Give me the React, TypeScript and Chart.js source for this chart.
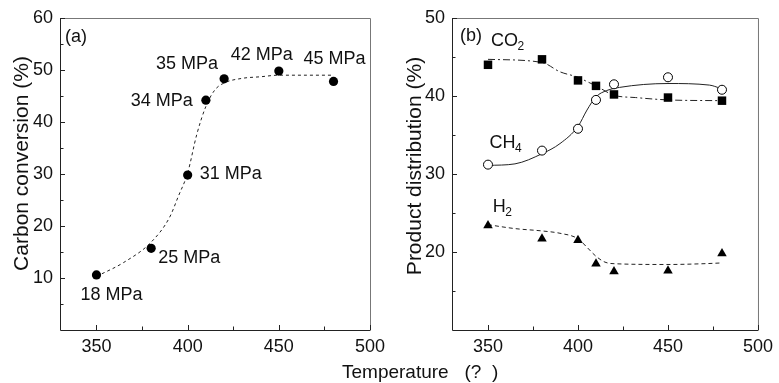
import React, { useEffect, useRef } from 'react';
import { Chart, registerables } from 'chart.js';

Chart.register(...registerables);

const W = 779;
const H = 383;
const FONT = "'Liberation Sans', Arial, Helvetica, sans-serif";
const INK = '#111';

// ---------- data ----------
const temperatures = [350, 380, 400, 410, 420, 450, 480];
const pressureLabels = ['18 MPa', '25 MPa', '31 MPa', '34 MPa', '35 MPa', '42 MPa', '45 MPa'];
const carbonConversion = [10.6, 15.7, 29.8, 44.2, 48.3, 49.8, 47.8];

const conversionFitTemps = [350, 365, 380, 390, 395, 400, 405, 410, 415, 420, 430, 440, 450, 465, 480];
const conversionFitValues = [10.3, 13.0, 16.9, 21.6, 25.8, 30.2, 37.6, 43.0, 46.2, 47.5, 48.4, 48.7, 49.0, 49.0, 49.0];

const co2Distribution = [44.0, 44.7, 42.0, 41.3, 40.2, 39.8, 39.4];
const ch4Distribution = [31.2, 33.0, 35.8, 39.5, 41.5, 42.4, 40.8];
const h2Distribution = [23.4, 21.7, 21.5, 18.5, 17.5, 17.6, 19.8];

const co2FitTemps = [350, 380, 390, 400, 405, 410, 420, 432, 450, 480];
const co2FitValues = [44.7, 44.3, 43.1, 42.4, 41.85, 41.3, 40.1, 39.8, 39.5, 39.4];
const ch4FitTemps = [350, 365, 380, 390, 400, 405, 410, 416, 423, 450, 473, 479];
const ch4FitValues = [31.1, 31.3, 32.6, 33.9, 36.1, 38.2, 39.9, 40.7, 41.1, 41.6, 41.4, 41.0];
const h2FitTemps = [350, 365, 380, 390, 400, 405, 410, 415, 420, 450, 470, 480];
const h2FitValues = [23.5, 23.0, 22.7, 22.4, 21.7, 20.6, 19.45, 18.7, 18.5, 18.4, 18.5, 18.6];

const xTicks = [350, 375, 400, 425, 450, 475, 500];
const xTickLabels = [350, 400, 450, 500];
const yTicksA = [5, 10, 15, 20, 25, 30, 35, 40, 45, 50, 55, 60];
const yTickLabelsA = [10, 20, 30, 40, 50, 60];
const yTicksB = [15, 20, 25, 30, 35, 40, 45, 50];
const yTickLabelsB = [20, 30, 40, 50];

const xTitle = 'Temperature   (?  )';
const yTitleA = 'Carbon conversion (%)';
const yTitleB = 'Product distribution (%)';

// ---------- label placement (pixels relative to each point) ----------
const pressureLabelPlacement = [
  { dx: 15, dy: 20, align: 'center' },
  { dx: 7, dy: 10, align: 'left' },
  { dx: 12, dy: -1, align: 'left' },
  { dx: -13, dy: 1, align: 'right' },
  { dx: -6, dy: -14.5, align: 'right' },
  { dx: -17, dy: -16, align: 'center' },
  { dx: 1, dy: -22, align: 'center' },
];

const pts = (xs: number[], ys: number[]) => xs.map((x, i) => ({ x, y: ys[i] }));

function drawFrameAndTicks(chart: any, xs: number[], xLabels: number[], ys: number[], yLabels: number[]) {
  const { ctx, chartArea: a, scales } = chart;
  const x = scales.x;
  const y = scales.y;
  ctx.save();
  ctx.lineWidth = 1;
  ctx.strokeStyle = '#777';
  ctx.beginPath();
  ctx.moveTo(a.left, a.top + 0.5);
  ctx.lineTo(a.right + 0.5, a.top + 0.5);
  ctx.lineTo(a.right + 0.5, a.bottom);
  ctx.stroke();
  ctx.strokeStyle = '#222';
  ctx.beginPath();
  ctx.moveTo(a.left + 0.5, a.top);
  ctx.lineTo(a.left + 0.5, a.bottom + 0.5);
  ctx.lineTo(a.right + 0.5, a.bottom + 0.5);
  ctx.stroke();
  ctx.beginPath();
  xs.forEach((v) => {
    const px = Math.round(x.getPixelForValue(v)) + 0.5;
    const len = xLabels.includes(v) ? 5 : 3.5;
    ctx.moveTo(px, a.bottom);
    ctx.lineTo(px, a.bottom - len);
  });
  ys.forEach((v) => {
    const py = Math.round(y.getPixelForValue(v)) + 0.5;
    const len = yLabels.includes(v) ? 5 : 3.5;
    ctx.moveTo(a.left, py);
    ctx.lineTo(a.left + len, py);
  });
  ctx.stroke();
  ctx.restore();
}

function drawRotated(ctx: CanvasRenderingContext2D, text: string, cx: number, cy: number, size: number) {
  ctx.save();
  ctx.translate(cx, cy);
  ctx.rotate(-Math.PI / 2);
  ctx.font = `${size}px ${FONT}`;
  ctx.fillStyle = INK;
  ctx.textAlign = 'center';
  ctx.textBaseline = 'middle';
  ctx.fillText(text, 0, 0);
  ctx.restore();
}

function drawChem(ctx: CanvasRenderingContext2D, main: string, sub: string, x: number, baseline: number) {
  ctx.save();
  ctx.fillStyle = INK;
  ctx.textAlign = 'left';
  ctx.textBaseline = 'alphabetic';
  ctx.font = `18px ${FONT}`;
  ctx.fillText(main, x, baseline);
  const w = ctx.measureText(main).width;
  ctx.font = `12px ${FONT}`;
  ctx.fillText(sub, x + w - 0.5, baseline + 3.5);
  ctx.restore();
}

function xScale() {
  return {
    type: 'linear',
    min: 330,
    max: 500,
    afterBuildTicks: (s: any) => {
      s.ticks = xTicks.map((v) => ({ value: v }));
    },
    afterFit: (s: any) => {
      s.height = 53;
    },
    grid: { display: false, drawTicks: false },
    border: { display: false },
    ticks: {
      autoSkip: false,
      maxRotation: 0,
      padding: 6,
      color: INK,
      font: { family: FONT, size: 18 },
      callback: (v: number) => (xTickLabels.includes(v) ? String(v) : ''),
    },
  };
}

function yScale(min: number, max: number, ticks: number[], labels: number[], width: number) {
  return {
    type: 'linear',
    min,
    max,
    afterBuildTicks: (s: any) => {
      s.ticks = ticks.map((v) => ({ value: v }));
    },
    afterFit: (s: any) => {
      s.width = width;
    },
    grid: { display: false, drawTicks: false },
    border: { display: false },
    ticks: {
      autoSkip: false,
      padding: 7,
      color: INK,
      font: { family: FONT, size: 18 },
      callback: (v: number) => (labels.includes(v) ? String(v) : ''),
    },
  };
}

function configA(): any {
  return {
    type: 'scatter',
    data: {
      datasets: [
        {
          label: 'Carbon conversion',
          data: pts(temperatures, carbonConversion),
          pointStyle: 'circle',
          pointRadius: 4.6,
          pointBackgroundColor: '#000',
          pointBorderColor: '#000',
          pointBorderWidth: 0,
          showLine: false,
        },
        {
          label: 'fit',
          data: pts(conversionFitTemps, conversionFitValues),
          showLine: true,
          pointRadius: 0,
          borderColor: '#222',
          borderWidth: 1,
          borderDash: [3, 3],
          cubicInterpolationMode: 'monotone',
          fill: false,
        },
      ],
    },
    options: {
      responsive: false,
      animation: false,
      devicePixelRatio: 1,
      events: [],
      layout: { padding: { left: 0, top: 18, right: W - 370, bottom: 0 } },
      plugins: { legend: { display: false }, tooltip: { enabled: false } },
      scales: {
        x: xScale(),
        y: yScale(0, 60, yTicksA, yTickLabelsA, 60),
      },
    },
    plugins: [
      {
        id: 'decorA',
        afterDraw(chart: any) {
          const { ctx, scales } = chart;
          const x = scales.x;
          const y = scales.y;
          drawFrameAndTicks(chart, xTicks, xTickLabels, yTicksA, yTickLabelsA);
          ctx.save();
          ctx.fillStyle = INK;
          ctx.font = `18px ${FONT}`;
          ctx.textBaseline = 'middle';
          temperatures.forEach((t, i) => {
            const p = pressureLabelPlacement[i];
            ctx.textAlign = p.align as CanvasTextAlign;
            ctx.fillText(
              pressureLabels[i],
              x.getPixelForValue(t) + p.dx,
              y.getPixelForValue(carbonConversion[i]) + p.dy
            );
          });
          ctx.textAlign = 'left';
          ctx.fillText('(a)', x.getPixelForValue(332.7), y.getPixelForValue(56.35));
          ctx.restore();
          drawRotated(ctx, yTitleA, 22.5, 163.5, 21);
          ctx.save();
          ctx.font = `19px ${FONT}`;
          ctx.fillStyle = INK;
          ctx.textAlign = 'left';
          ctx.textBaseline = 'alphabetic';
          ctx.fillText(xTitle, 342, 378);
          ctx.restore();
        },
      },
    ],
  };
}

function configB(): any {
  return {
    type: 'scatter',
    data: {
      datasets: [
        {
          label: 'CO2',
          data: pts(temperatures, co2Distribution),
          pointStyle: 'rect',
          pointRadius: 6,
          pointBackgroundColor: '#000',
          pointBorderColor: '#000',
          pointBorderWidth: 0,
          showLine: false,
        },
        {
          label: 'CH4',
          data: pts(temperatures, ch4Distribution),
          pointStyle: 'circle',
          pointRadius: 4.5,
          pointBackgroundColor: '#fff',
          pointBorderColor: '#000',
          pointBorderWidth: 1,
          showLine: false,
        },
        {
          label: 'H2',
          data: pts(temperatures, h2Distribution),
          pointStyle: 'triangle',
          pointRadius: 5.5,
          pointBackgroundColor: '#000',
          pointBorderColor: '#000',
          pointBorderWidth: 0,
          showLine: false,
        },
        {
          label: 'CO2 fit',
          data: pts(co2FitTemps, co2FitValues),
          showLine: true,
          pointRadius: 0,
          borderColor: '#222',
          borderWidth: 1,
          borderDash: [7, 3, 2, 3],
          cubicInterpolationMode: 'monotone',
          fill: false,
        },
        {
          label: 'CH4 fit',
          data: pts(ch4FitTemps, ch4FitValues),
          showLine: true,
          pointRadius: 0,
          borderColor: '#222',
          borderWidth: 1,
          cubicInterpolationMode: 'monotone',
          fill: false,
        },
        {
          label: 'H2 fit',
          data: pts(h2FitTemps, h2FitValues),
          showLine: true,
          pointRadius: 0,
          borderColor: '#222',
          borderWidth: 1,
          borderDash: [4, 3],
          cubicInterpolationMode: 'monotone',
          fill: false,
        },
      ],
    },
    options: {
      responsive: false,
      animation: false,
      devicePixelRatio: 1,
      events: [],
      layout: { padding: { left: 390, top: 18, right: 16, bottom: 0 } },
      plugins: { legend: { display: false }, tooltip: { enabled: false } },
      scales: {
        x: xScale(),
        y: yScale(10, 50, yTicksB, yTickLabelsB, 62),
      },
    },
    plugins: [
      {
        id: 'decorB',
        afterDraw(chart: any) {
          const { ctx, scales } = chart;
          const x = scales.x;
          const y = scales.y;
          drawFrameAndTicks(chart, xTicks, xTickLabels, yTicksB, yTickLabelsB);
          ctx.save();
          ctx.fillStyle = INK;
          ctx.font = `18px ${FONT}`;
          ctx.textBaseline = 'middle';
          ctx.textAlign = 'left';
          ctx.fillText('(b)', x.getPixelForValue(334.4), y.getPixelForValue(47.73));
          ctx.restore();
          drawChem(ctx, 'CO', '2', x.getPixelForValue(351.7), y.getPixelForValue(46.36));
          drawChem(ctx, 'CH', '4', x.getPixelForValue(350.8), y.getPixelForValue(33.32));
          drawChem(ctx, 'H', '2', x.getPixelForValue(352.6), y.getPixelForValue(25.1));
          drawRotated(ctx, yTitleB, 415, 166, 21);
        },
      },
    ],
  };
}

export default function App() {
  const refA = useRef<HTMLCanvasElement>(null);
  const refB = useRef<HTMLCanvasElement>(null);

  useEffect(() => {
    const a = new Chart(refA.current as HTMLCanvasElement, configA());
    const b = new Chart(refB.current as HTMLCanvasElement, configB());
    return () => {
      a.destroy();
      b.destroy();
    };
  }, []);

  return (
    <div style={{ position: 'fixed', left: 0, top: 0, width: W, height: H, background: '#fff', overflow: 'hidden' }}>
      <canvas ref={refA} width={W} height={H} style={{ position: 'absolute', left: 0, top: 0, width: W, height: H }} />
      <canvas ref={refB} width={W} height={H} style={{ position: 'absolute', left: 0, top: 0, width: W, height: H }} />
    </div>
  );
}
